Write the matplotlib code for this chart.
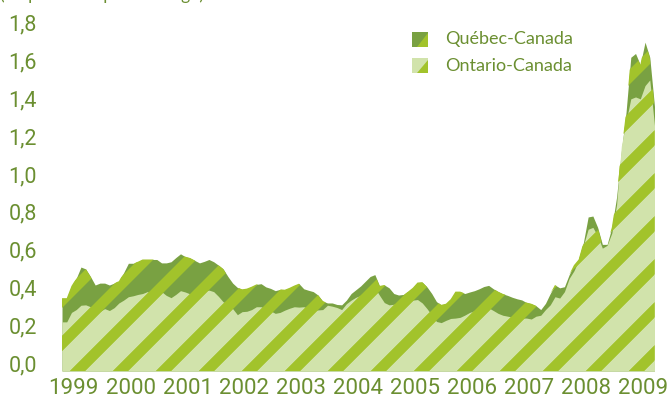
import numpy as np
import matplotlib
matplotlib.use('Agg')
import matplotlib.pyplot as plt
from matplotlib.collections import PolyCollection
from matplotlib.patches import Polygon, Rectangle
from matplotlib.transforms import IdentityTransform, ScaledTranslation

# écarts mensuels, janvier 1999 à juin 2009
quebec = [0.385, 0.385, 0.45, 0.49, 0.55, 0.54, 0.50, 0.455, 0.465, 0.465, 0.455, 0.465,
          0.475, 0.52, 0.57, 0.57, 0.578, 0.59, 0.59, 0.59, 0.59, 0.572, 0.572, 0.578,
          0.60, 0.62, 0.605, 0.598, 0.585, 0.572, 0.58, 0.59, 0.578, 0.56, 0.54, 0.50,
          0.465, 0.442, 0.432, 0.436, 0.446, 0.458, 0.462, 0.445, 0.437, 0.425, 0.432, 0.43,
          0.44, 0.452, 0.462, 0.435, 0.427, 0.42, 0.402, 0.37, 0.36, 0.36, 0.352, 0.35,
          0.375, 0.41, 0.43, 0.45, 0.475, 0.50, 0.51, 0.45, 0.455, 0.44, 0.41, 0.402,
          0.405, 0.42, 0.44, 0.468, 0.47, 0.445, 0.41, 0.367, 0.35, 0.356, 0.38, 0.42,
          0.42, 0.41, 0.418, 0.425, 0.435, 0.447, 0.453, 0.435, 0.42, 0.408, 0.40, 0.39,
          0.382, 0.376, 0.362, 0.356, 0.345, 0.325, 0.358, 0.41, 0.455, 0.44, 0.446, 0.51,
          0.56, 0.59, 0.68, 0.815, 0.82, 0.76, 0.67, 0.67, 0.76, 0.92, 1.16, 1.37,
          1.66, 1.68, 1.62, 1.74, 1.66, 1.40]
ontario = [0.26, 0.26, 0.31, 0.325, 0.348, 0.35, 0.34, 0.31, 0.315, 0.33, 0.32, 0.335,
           0.36, 0.375, 0.393, 0.398, 0.405, 0.41, 0.42, 0.41, 0.40, 0.42, 0.40, 0.388,
           0.405, 0.425, 0.418, 0.408, 0.40, 0.413, 0.423, 0.428, 0.42, 0.395, 0.366, 0.353,
           0.33, 0.298, 0.314, 0.316, 0.325, 0.34, 0.34, 0.327, 0.318, 0.305, 0.31, 0.322,
           0.332, 0.34, 0.338, 0.34, 0.332, 0.323, 0.323, 0.325, 0.348, 0.343, 0.336, 0.325,
           0.356, 0.375, 0.39, 0.40, 0.418, 0.435, 0.44, 0.40, 0.362, 0.35, 0.353, 0.358,
           0.358, 0.36, 0.375, 0.378, 0.36, 0.33, 0.296, 0.262, 0.256, 0.268, 0.278, 0.28,
           0.284, 0.296, 0.31, 0.318, 0.324, 0.33, 0.334, 0.32, 0.305, 0.295, 0.29, 0.285,
           0.28, 0.28, 0.28, 0.275, 0.29, 0.295, 0.325, 0.35, 0.393, 0.386, 0.42, 0.49,
           0.53, 0.585, 0.665, 0.75, 0.76, 0.715, 0.65, 0.665, 0.73, 0.88, 1.19, 1.32,
           1.44, 1.45, 1.44, 1.51, 1.54, 1.30]

annees = ['1999', '2000', '2001', '2002', '2003', '2004', '2005', '2006', '2007', '2008', '2009']
y_ticks = [0.0, 0.2, 0.4, 0.6, 0.8, 1.0, 1.2, 1.4, 1.6, 1.8]
y_labels = ['0,0', '0,2', '0,4', '0,6', '0,8', '1,0', '1,2', '1,4', '1,6', '1,8']
series_names = ['Québec-Canada', 'Ontario-Canada']

# couleurs
FONCE = '#79a142'
VIF = '#a2c32b'
PALE = '#d1e3ab'
TEXTE = '#6b8f31'
POLICE = ['Roboto', 'DejaVu Sans']
POLICE_LEG = ['Lato', 'DejaVu Sans']

W, H = 670, 409


def stripes(fig, clip_path, clip_trans):
    """ bandes diagonales vives, en pixels, coupées par la surface """
    polys = []
    for k in range(-14, 20):
        c = 32 + 43 * k
        polys.append([(c, 0), (c + 15, 0), (c + 15 + H, H), (c + H, H)])
    pc = PolyCollection(polys, facecolors=VIF, edgecolors='none',
                        transform=IdentityTransform(), zorder=3)
    pc.set_clip_path(clip_path, clip_trans)
    fig.add_artist(pc)


fig = plt.figure(figsize=(W / 100, H / 100), dpi=100)
ax = fig.add_axes([62 / W, 38 / H, (654.5 - 62) / W, (371 - 30.8) / H])

mois = np.arange(len(quebec))
# surfaces
qc = ax.fill_between(mois, 0, quebec, color=FONCE, lw=0, zorder=1)
on = ax.fill_between(mois, 0, ontario, color=PALE, lw=0, zorder=2)
stripes(fig, qc.get_paths()[0], ax.transData)
stripes(fig, on.get_paths()[0], ax.transData)

ax.set_xlim(0, len(quebec) - 1)
ax.set_ylim(0, 1.8)
for s in ax.spines.values():
    s.set_visible(False)

ax.set_xticks([12 * i + 2.5 for i in range(len(annees))])
ax.set_xticklabels(annees, family=POLICE, fontsize=16, color=TEXTE)
ax.set_yticks(y_ticks)
ax.set_yticklabels(y_labels, family=POLICE, fontsize=15.5, color=TEXTE)
ax.tick_params(axis='both', length=0)
ax.tick_params(axis='x', pad=5)
ax.tick_params(axis='y', pad=18)
offset = ScaledTranslation(0, 8 / 100, fig.dpi_scale_trans)
for lab in ax.get_yticklabels():
    lab.set_transform(lab.get_transform() + offset)

# légende faite à la main
for i, (name, base) in enumerate(zip(series_names, [FONCE, PALE])):
    top = 31.7 + i * 26.5
    x0, x1 = 412 / W, 428 / W
    y1 = (H - top) / H
    y0 = (H - top - 15) / H
    fig.add_artist(Rectangle((x0, y0), x1 - x0, y1 - y0, color=base,
                             transform=fig.transFigure, lw=0))
    fig.add_artist(Polygon([(x0 + 0.3 * (x1 - x0), y0), (x1, y0), (x1, y1 - 0.1 * (y1 - y0))],
                           closed=True, color=VIF, transform=fig.transFigure, lw=0))
    fig.text(445 / W, (H - top - 7.5) / H, name, family=POLICE_LEG,
             fontsize=13, color=TEXTE, va='center', ha='left')

# unité, coupée en haut de l'image
fig.text(0 / W, 1.0, '(en points de pourcentage)', family=POLICE_LEG,
         fontsize=12.5, color=TEXTE, va='baseline', ha='left')

fig.savefig('out.png', dpi=100)
